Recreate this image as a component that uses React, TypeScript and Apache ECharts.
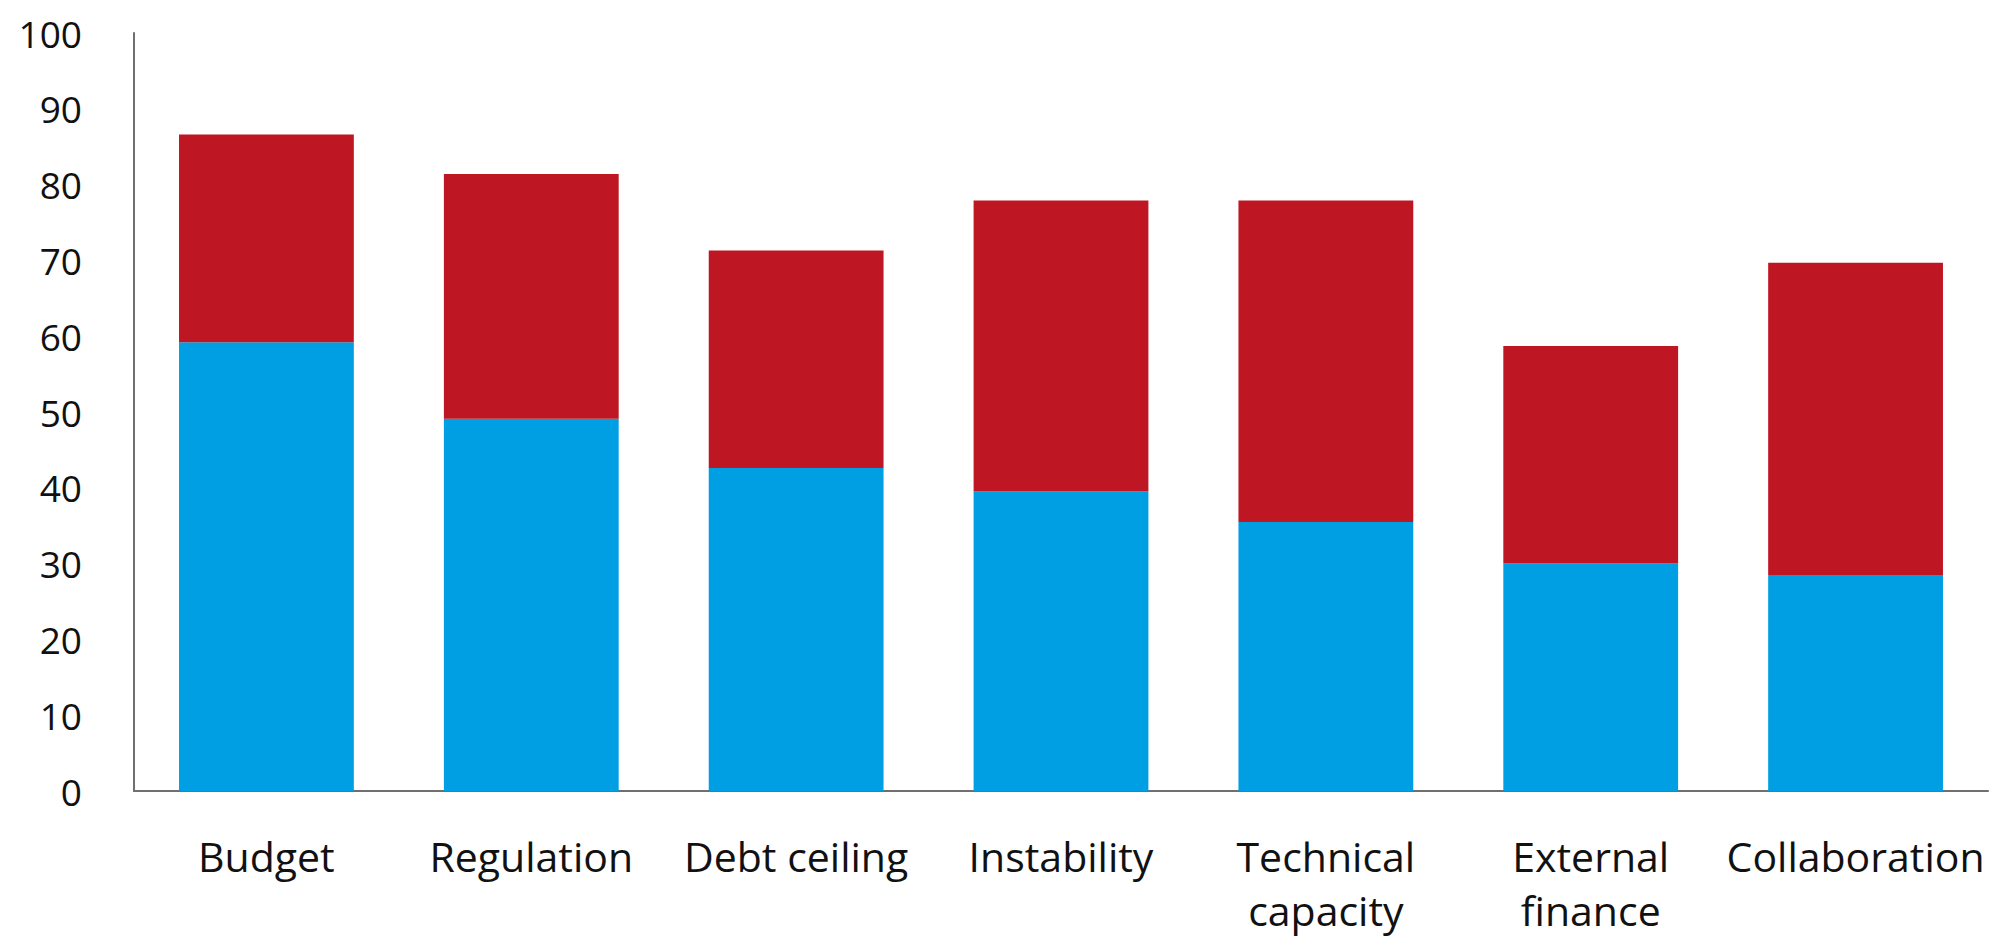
import React, { useEffect, useRef } from "react";
import * as echarts from "echarts";

const categories = [
  "Budget",
  "Regulation",
  "Debt ceiling",
  "Instability",
  "Technical\ncapacity",
  "External\nfinance",
  "Collaboration",
];
const blueValues = [59.2, 49.1, 42.6, 39.5, 35.5, 30.0, 28.5];
const redValues = [27.4, 32.3, 28.7, 38.4, 42.4, 28.7, 41.2];
const yTicks = { min: 0, max: 100, interval: 10 };

export default function App() {
  const ref = useRef<HTMLDivElement>(null);
  useEffect(() => {
    document.body.style.margin = "0";
    if (!ref.current) return;
    const chart = echarts.init(ref.current, null, { renderer: "svg" });
    const font = "'Open Sans', sans-serif";
    chart.setOption({
      animation: false,
      backgroundColor: "#ffffff",
      grid: { left: 134, right: 2, top: 33, bottom: 138, containLabel: false },
      xAxis: {
        type: "category",
        data: categories,
        axisLine: { show: true, lineStyle: { color: "#6f6f6f", width: 2 } },
        axisTick: { show: false },
        axisLabel: {
          color: "#111",
          fontFamily: font,
          fontSize: 41,
          margin: 38,
          lineHeight: 54,
          interval: 0,
        },
      },
      yAxis: {
        type: "value",
        min: yTicks.min,
        max: yTicks.max,
        interval: yTicks.interval,
        splitLine: { show: false },
        axisLine: { show: true, lineStyle: { color: "#6f6f6f", width: 2 } },
        axisTick: { show: false },
        axisLabel: {
          color: "#111",
          fontFamily: font,
          fontSize: 37,
          margin: 52,
        },
      },
      series: [
        {
          type: "bar",
          stack: "total",
          data: blueValues,
          barCategoryGap: "34%",
          itemStyle: { color: "#009fe3" },
        },
        {
          type: "bar",
          stack: "total",
          data: redValues,
          barCategoryGap: "34%",
          itemStyle: { color: "#be1622" },
        },
      ],
    });
    return () => chart.dispose();
  }, []);
  return (
    <div
      ref={ref}
      style={{ position: "absolute", left: 0, top: 0, width: 1990, height: 937 }}
    />
  );
}
